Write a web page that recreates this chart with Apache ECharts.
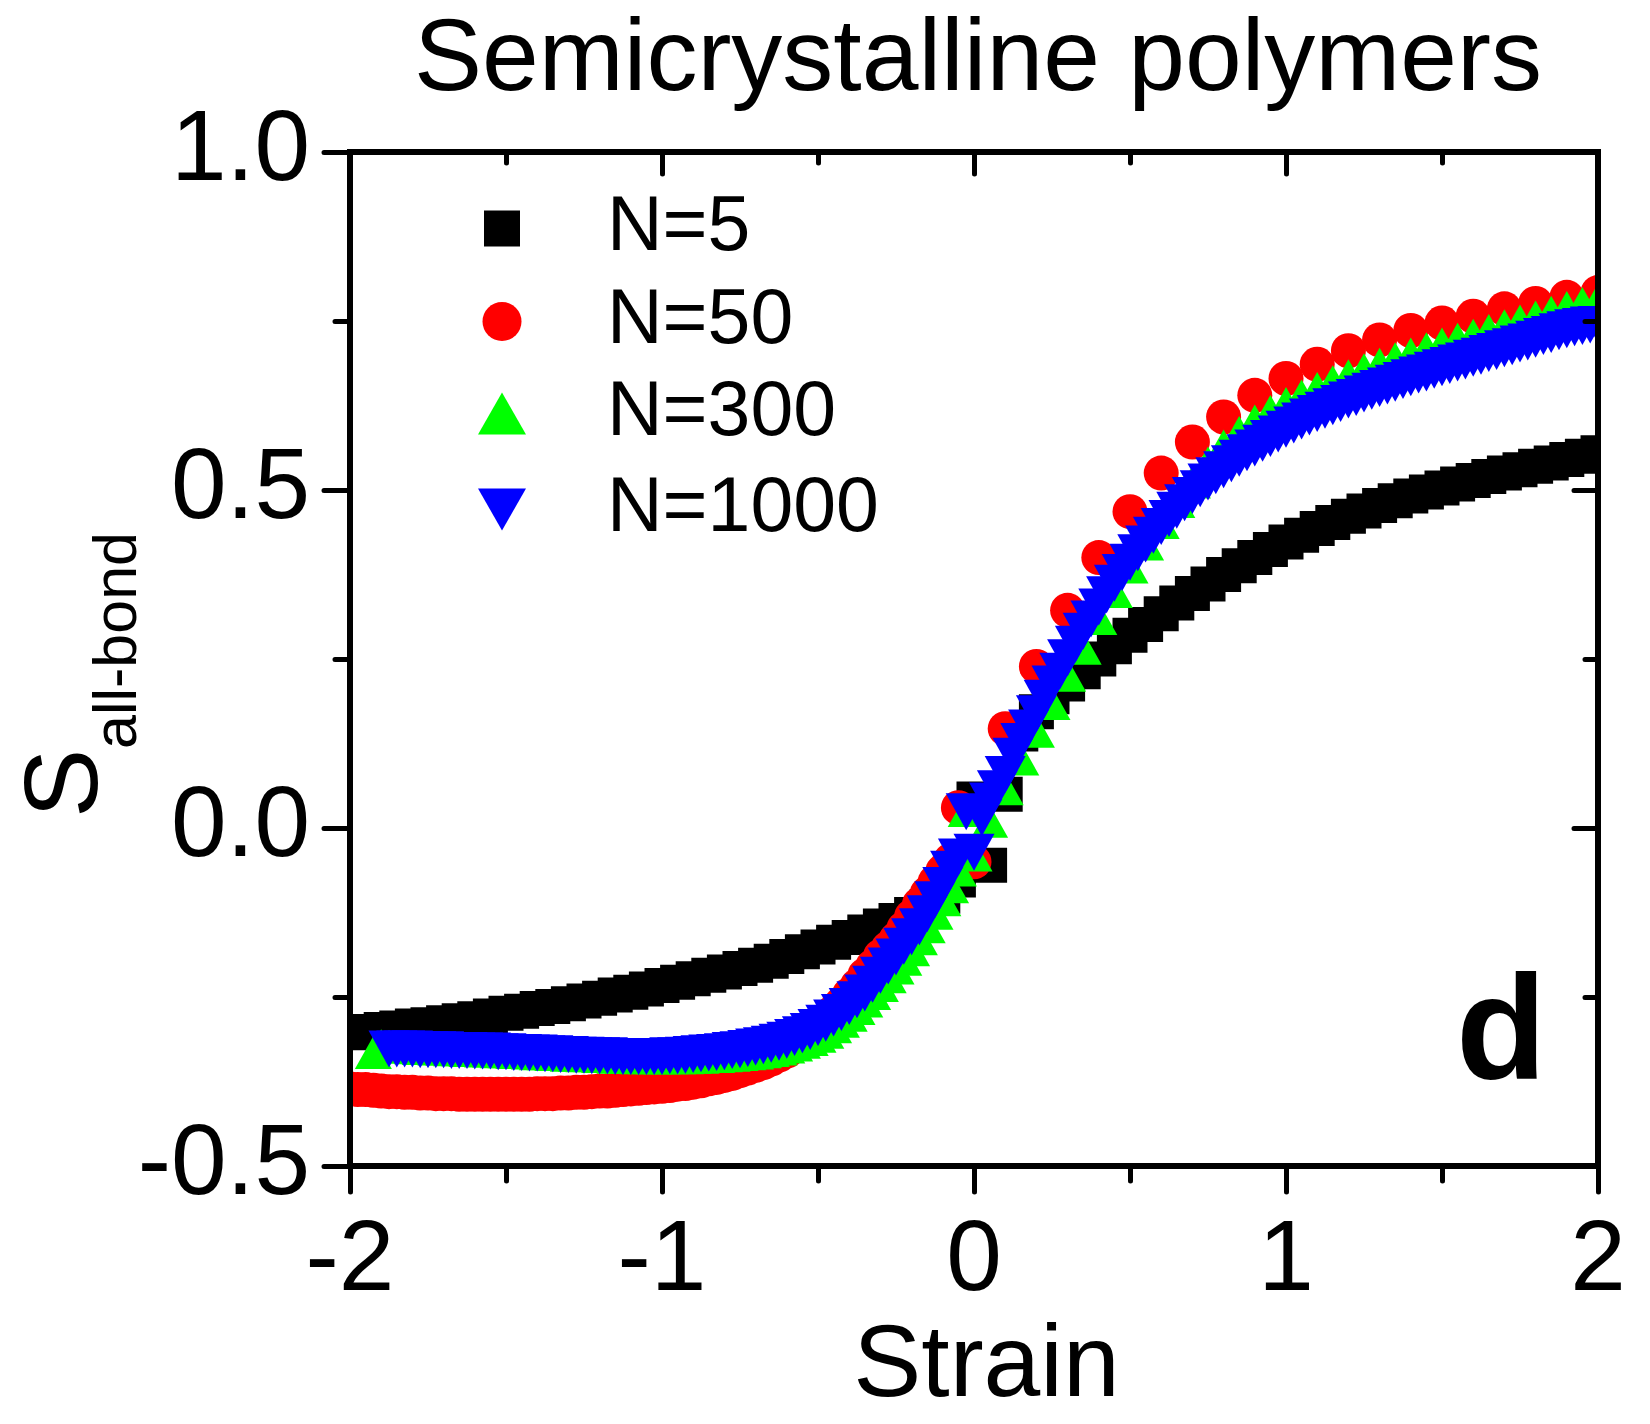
<!DOCTYPE html>
<html><head><meta charset="utf-8">
<script src="https://cdn.jsdelivr.net/npm/echarts@6/dist/echarts.min.js"></script>
<style>html,body{margin:0;padding:0;background:#fff;}#c{width:1650px;height:1424px;}</style>
</head><body><div id="c"></div>
<script>
// ---------- data (strain, S_all-bond) ----------
const titleText = 'Semicrystalline polymers';
const seriesNames = ['N=5', 'N=50', 'N=300', 'N=1000'];
const xTickValues = [-2, -1, 0, 1, 2];
const xTickLabels = ['-2', '-1', '0', '1', '2'];
const yTickValues = [-0.5, 0, 0.5, 1.0];
const yTickLabels = ['-0.5', '0.0', '0.5', '1.0'];

const n5 = [[-2.0,-0.303],[-1.95,-0.301],[-1.9,-0.298],[-1.85,-0.296],[-1.8,-0.293],[-1.75,-0.291],[-1.7,-0.288],[-1.65,-0.285],[-1.6,-0.282],[-1.55,-0.278],[-1.5,-0.274],[-1.45,-0.271],[-1.4,-0.267],[-1.35,-0.264],[-1.3,-0.260],[-1.25,-0.256],[-1.2,-0.252],[-1.15,-0.247],[-1.1,-0.243],[-1.05,-0.238],[-1.0,-0.233],[-0.95,-0.228],[-0.9,-0.223],[-0.85,-0.218],[-0.8,-0.213],[-0.75,-0.208],[-0.7,-0.203],[-0.65,-0.197],[-0.6,-0.190],[-0.55,-0.183],[-0.5,-0.176],[-0.45,-0.169],[-0.4,-0.162],[-0.35,-0.154],[-0.3,-0.145],[-0.25,-0.137],[-0.2,-0.128],[-0.15,-0.116],[-0.1,-0.101],[-0.05,-0.077],[0.0,0.043],
[0.05,-0.055],[0.1,0.050],[0.15,0.139],[0.2,0.172],[0.25,0.194],[0.3,0.213],[0.35,0.231],[0.4,0.250],[0.45,0.268],[0.5,0.285],[0.55,0.301],[0.6,0.317],[0.65,0.333],[0.7,0.347],[0.75,0.361],[0.8,0.375],[0.85,0.388],[0.9,0.400],[0.95,0.412],[1.0,0.423],[1.05,0.433],[1.1,0.443],[1.15,0.452],[1.2,0.461],[1.25,0.469],[1.3,0.477],[1.35,0.484],[1.4,0.491],[1.45,0.497],[1.5,0.503],[1.55,0.509],[1.6,0.514],[1.65,0.520],[1.7,0.525],[1.75,0.530],[1.8,0.535],[1.85,0.540],[1.9,0.545],[1.95,0.550],[2.0,0.555]];

const n50 = [[-2.0,-0.386],[-1.975,-0.387],[-1.95,-0.387],[-1.925,-0.388],[-1.9,-0.389],[-1.875,-0.390],[-1.85,-0.390],[-1.825,-0.391],[-1.8,-0.391],[-1.775,-0.392],[-1.75,-0.392],[-1.725,-0.393],[-1.7,-0.393],[-1.675,-0.393],[-1.65,-0.394],[-1.625,-0.394],[-1.6,-0.394],[-1.575,-0.394],[-1.55,-0.394],[-1.525,-0.394],[-1.5,-0.394],[-1.475,-0.394],[-1.45,-0.394],[-1.425,-0.394],[-1.4,-0.393],[-1.375,-0.393],[-1.35,-0.393],[-1.325,-0.392],[-1.3,-0.392],[-1.275,-0.391],[-1.25,-0.391],[-1.225,-0.390],[-1.2,-0.389],[-1.175,-0.389],[-1.15,-0.388],[-1.125,-0.387],[-1.1,-0.386],[-1.075,-0.385],[-1.05,-0.384],[-1.025,-0.383],[-1.0,-0.382],[-0.975,-0.381],[-0.95,-0.379],[-0.925,-0.378],[-0.9,-0.376],[-0.875,-0.374],[-0.85,-0.371],[-0.825,-0.369],[-0.8,-0.366],[-0.775,-0.363],[-0.75,-0.359],[-0.725,-0.355],[-0.7,-0.351],[-0.675,-0.347],[-0.65,-0.342],[-0.625,-0.336],[-0.6,-0.330],[-0.575,-0.322],[-0.55,-0.314],[-0.525,-0.304],[-0.5,-0.294],[-0.475,-0.283],[-0.45,-0.272],[-0.425,-0.260],[-0.4,-0.247],[-0.375,-0.234],[-0.35,-0.218],[-0.325,-0.205],[-0.3,-0.190],[-0.275,-0.178],[-0.25,-0.165],[-0.225,-0.149],[-0.2,-0.131],[-0.175,-0.113],[-0.15,-0.097],[-0.125,-0.080],[-0.1,-0.064],[-0.075,-0.048],[-0.05,0.030],
[0.0,-0.050],[0.1,0.147],[0.2,0.239],[0.3,0.322],[0.4,0.400],[0.5,0.468],[0.6,0.525],[0.7,0.571],[0.8,0.608],[0.9,0.640],[1.0,0.665],[1.1,0.686],[1.2,0.706],[1.3,0.722],[1.4,0.736],[1.5,0.747],[1.6,0.757],[1.7,0.768],[1.8,0.776],[1.9,0.785],[2.0,0.792]];

const n300 = [[-1.925,-0.332],[-1.9,-0.322],[-1.875,-0.323],[-1.85,-0.324],[-1.825,-0.324],[-1.8,-0.325],[-1.775,-0.326],[-1.75,-0.326],[-1.725,-0.327],[-1.7,-0.327],[-1.675,-0.328],[-1.65,-0.328],[-1.625,-0.329],[-1.6,-0.329],[-1.575,-0.330],[-1.55,-0.330],[-1.525,-0.331],[-1.5,-0.331],[-1.475,-0.332],[-1.45,-0.332],[-1.425,-0.333],[-1.4,-0.334],[-1.375,-0.334],[-1.35,-0.335],[-1.325,-0.335],[-1.3,-0.336],[-1.275,-0.336],[-1.25,-0.337],[-1.225,-0.337],[-1.2,-0.338],[-1.175,-0.338],[-1.15,-0.339],[-1.125,-0.339],[-1.1,-0.339],[-1.075,-0.340],[-1.05,-0.340],[-1.025,-0.340],[-1.0,-0.340],[-0.975,-0.340],[-0.95,-0.340],[-0.925,-0.340],[-0.9,-0.339],[-0.875,-0.339],[-0.85,-0.338],[-0.825,-0.338],[-0.8,-0.337],[-0.775,-0.336],[-0.75,-0.335],[-0.725,-0.334],[-0.7,-0.333],[-0.675,-0.331],[-0.65,-0.329],[-0.625,-0.327],[-0.6,-0.324],[-0.575,-0.321],[-0.55,-0.317],[-0.525,-0.313],[-0.5,-0.308],[-0.475,-0.302],[-0.45,-0.294],[-0.425,-0.286],[-0.4,-0.277],[-0.375,-0.267],[-0.35,-0.256],[-0.325,-0.245],[-0.3,-0.233],[-0.275,-0.220],[-0.25,-0.207],[-0.225,-0.194],[-0.2,-0.180],[-0.175,-0.164],[-0.15,-0.146],[-0.125,-0.126],[-0.1,-0.106],[-0.075,-0.087],[-0.05,-0.062],[-0.025,0.026],
[0.0,-0.040],[0.05,0.010],[0.1,0.058],[0.15,0.102],[0.2,0.143],[0.25,0.184],[0.3,0.226],[0.35,0.266],[0.4,0.310],[0.45,0.350],[0.5,0.386],[0.55,0.420],[0.6,0.452],[0.65,0.483],[0.7,0.512],[0.75,0.540],[0.8,0.565],[0.85,0.585],[0.9,0.602],[0.95,0.616],[1.0,0.628],[1.05,0.639],[1.1,0.650],[1.15,0.660],[1.2,0.669],[1.25,0.678],[1.3,0.686],[1.35,0.694],[1.4,0.701],[1.45,0.709],[1.5,0.716],[1.55,0.723],[1.6,0.729],[1.65,0.736],[1.7,0.743],[1.75,0.750],[1.8,0.756],[1.85,0.763],[1.9,0.770],[1.95,0.776],[2.0,0.781]];

const n1000 = [[-1.875,-0.327],[-1.85,-0.327],[-1.825,-0.327],[-1.8,-0.327],[-1.775,-0.328],[-1.75,-0.328],[-1.725,-0.328],[-1.7,-0.328],[-1.675,-0.329],[-1.65,-0.329],[-1.625,-0.329],[-1.6,-0.330],[-1.575,-0.330],[-1.55,-0.330],[-1.525,-0.331],[-1.5,-0.331],[-1.475,-0.332],[-1.45,-0.332],[-1.425,-0.333],[-1.4,-0.333],[-1.375,-0.334],[-1.35,-0.334],[-1.325,-0.335],[-1.3,-0.335],[-1.275,-0.336],[-1.25,-0.336],[-1.225,-0.337],[-1.2,-0.337],[-1.175,-0.337],[-1.15,-0.338],[-1.125,-0.338],[-1.1,-0.338],[-1.075,-0.338],[-1.05,-0.338],[-1.025,-0.338],[-1.0,-0.338],[-0.975,-0.337],[-0.95,-0.337],[-0.925,-0.336],[-0.9,-0.335],[-0.875,-0.334],[-0.85,-0.333],[-0.825,-0.332],[-0.8,-0.331],[-0.775,-0.329],[-0.75,-0.328],[-0.725,-0.326],[-0.7,-0.324],[-0.675,-0.322],[-0.65,-0.320],[-0.625,-0.317],[-0.6,-0.314],[-0.575,-0.310],[-0.55,-0.306],[-0.525,-0.301],[-0.5,-0.295],[-0.475,-0.289],[-0.45,-0.281],[-0.425,-0.273],[-0.4,-0.264],[-0.375,-0.254],[-0.35,-0.244],[-0.325,-0.231],[-0.3,-0.218],[-0.275,-0.204],[-0.25,-0.191],[-0.225,-0.175],[-0.2,-0.161],[-0.175,-0.146],[-0.15,-0.127],[-0.125,-0.106],[-0.1,-0.085],[-0.075,-0.061],[-0.05,-0.043],[-0.025,0.024],
[0.0,-0.036],[0.025,0.015],[0.05,0.040],[0.075,0.058],[0.1,0.079],[0.125,0.106],[0.15,0.128],[0.175,0.148],[0.2,0.169],[0.225,0.192],[0.25,0.213],[0.275,0.232],[0.3,0.252],[0.325,0.272],[0.35,0.291],[0.375,0.309],[0.4,0.327],[0.425,0.345],[0.45,0.362],[0.475,0.378],[0.5,0.393],[0.525,0.407],[0.55,0.420],[0.575,0.433],[0.6,0.446],[0.625,0.458],[0.65,0.470],[0.675,0.481],[0.7,0.492],[0.725,0.502],[0.75,0.512],[0.775,0.521],[0.8,0.530],[0.825,0.539],[0.85,0.547],[0.875,0.555],[0.9,0.562],[0.925,0.569],[0.95,0.576],[0.975,0.583],[1.0,0.590],[1.025,0.596],[1.05,0.602],[1.075,0.608],[1.1,0.613],[1.125,0.618],[1.15,0.623],[1.175,0.628],[1.2,0.633],[1.225,0.637],[1.25,0.642],[1.275,0.646],[1.3,0.650],[1.325,0.654],[1.35,0.658],[1.375,0.662],[1.4,0.666],[1.425,0.670],[1.45,0.673],[1.475,0.677],[1.5,0.681],[1.525,0.684],[1.55,0.688],[1.575,0.691],[1.6,0.695],[1.625,0.698],[1.65,0.702],[1.675,0.705],[1.7,0.709],[1.725,0.712],[1.75,0.716],[1.775,0.719],[1.8,0.723],[1.825,0.727],[1.85,0.730],[1.875,0.734],[1.9,0.737],[1.925,0.740],[1.95,0.742],[1.975,0.744],[2.0,0.745]];

// ---------- chart ----------
const FONT = '"Liberation Sans", Arial, sans-serif';
const chart = echarts.init(document.getElementById('c'), null, {renderer: 'canvas'});
const G = {left: 350, top: 152, width: 1248, height: 1014};

function lookup(vals, labels) {
  return v => { const i = vals.findIndex(t => Math.abs(t - v) < 1e-9); return i >= 0 ? labels[i] : ''; };
}
const axisLineStyle = {color: '#000', width: 6, cap: 'square'};
const tickStyle = {color: '#000', width: 5, cap: 'round'};

function legendFor(item, left, top, w, h, pad) {
  return {
    data: [item], left: left, top: top, orient: 'vertical', padding: 0,
    itemWidth: w, itemHeight: h, selectedMode: false,
    itemStyle: {opacity: 1},
    textStyle: {fontFamily: FONT, fontSize: 77, color: '#000', lineHeight: 30, padding: pad}
  };
}

const option = {
  animation: false,
  backgroundColor: '#fff',
  textStyle: {fontFamily: FONT},
  title: {
    text: titleText, left: 414, top: 11, padding: 0, z: 30,
    textStyle: {fontFamily: FONT, fontSize: 102, fontWeight: 'normal', color: '#000', lineHeight: 102}
  },
  grid: Object.assign({containLabel: false, outerBoundsMode: 'none'}, G),
  legend: [
    legendFor(seriesNames[0], 484, 190, 36, 36, [0, 0, 0, 82]),
    legendFor(seriesNames[1], 482.5, 283, 39, 39, [0, 0, 0, 80.5]),
    legendFor(seriesNames[2], 478, 375, 48, 42, [0, 0, 0, 76]),
    legendFor({name: seriesNames[3], icon: 'path://M0,0L48,0L24,42Z'}, 478, 471, 48, 42, [0, 0, 0, 76])
  ],
  xAxis: [
    {
      type: 'value', min: -2, max: 2, interval: 1, position: 'bottom', z: 10,
      axisLine: {show: true, onZero: false, lineStyle: axisLineStyle},
      axisTick: {show: true, inside: false, length: 26, lineStyle: tickStyle},
      minorTick: {show: true, splitNumber: 2, length: 15, lineStyle: tickStyle},
      splitLine: {show: false}, minorSplitLine: {show: false},
      axisLabel: {show: true, margin: 46, fontFamily: FONT, fontSize: 100, lineHeight: 100, color: '#000',
                  formatter: lookup(xTickValues, xTickLabels)},
      name: 'Strain', nameLocation: 'middle', nameGap: 151,
      nameTextStyle: {fontFamily: FONT, fontSize: 102, lineHeight: 102, color: '#000', padding: [0, 0, 0, 25]}
    },
    {
      type: 'value', min: -2, max: 2, interval: 1, position: 'top', z: 10,
      axisLine: {show: true, onZero: false, lineStyle: axisLineStyle},
      axisTick: {show: true, inside: true, length: 22, lineStyle: tickStyle},
      minorTick: {show: true, splitNumber: 2, length: 11, lineStyle: tickStyle},
      splitLine: {show: false}, minorSplitLine: {show: false},
      axisLabel: {show: false}
    }
  ],
  yAxis: [
    {
      type: 'value', min: -0.5, max: 1.0, interval: 0.5, position: 'left', z: 10,
      axisLine: {show: true, onZero: false, lineStyle: axisLineStyle},
      axisTick: {show: true, inside: false, length: 26, lineStyle: tickStyle},
      minorTick: {show: true, splitNumber: 2, length: 15, lineStyle: tickStyle},
      splitLine: {show: false}, minorSplitLine: {show: false},
      axisLabel: {show: true, margin: 40, fontFamily: FONT, fontSize: 100, lineHeight: 100, color: '#000',
                  padding: [0, 0, 14, 0], formatter: lookup(yTickValues, yTickLabels)}
    },
    {
      type: 'value', min: -0.5, max: 1.0, interval: 0.5, position: 'right', z: 10,
      axisLine: {show: true, onZero: false, lineStyle: axisLineStyle},
      axisTick: {show: true, inside: true, length: 24, lineStyle: tickStyle},
      minorTick: {show: true, splitNumber: 2, length: 13, lineStyle: tickStyle},
      splitLine: {show: false}, minorSplitLine: {show: false},
      axisLabel: {show: false}
    }
  ],
  graphic: [
    // white masks outside the frame (the original clips symbols to the frame)
    {type: 'rect', silent: true, z: 5, shape: {x: 0, y: 0, width: 347, height: 1424}, style: {fill: '#fff'}},
    {type: 'rect', silent: true, z: 5, shape: {x: 1601, y: 0, width: 49, height: 1424}, style: {fill: '#fff'}},
    {type: 'rect', silent: true, z: 5, shape: {x: 0, y: 0, width: 1650, height: 149}, style: {fill: '#fff'}},
    {type: 'rect', silent: true, z: 5, shape: {x: 0, y: 1169, width: 1650, height: 255}, style: {fill: '#fff'}},
    // y axis title S_all-bond (rotated)
    {type: 'text', z: 30, x: 68, y: 818, rotation: Math.PI / 2,
     style: {text: 'S', font: '104px ' + FONT, fill: '#000', align: 'left', verticalAlign: 'middle'}},
    {type: 'text', z: 30, x: 119, y: 749, rotation: Math.PI / 2,
     style: {text: 'all-bond', font: '61px ' + FONT, fill: '#000', align: 'left', verticalAlign: 'middle'}},
    // panel label
    {type: 'text', z: 30, x: 1456, y: 1038,
     style: {text: 'd', font: 'bold 148px ' + FONT, fill: '#000', align: 'left', verticalAlign: 'middle'}}
  ],
  series: [
    {name: seriesNames[0], type: 'scatter', data: n5, symbol: 'rect', symbolSize: 35, clip: false,
     itemStyle: {color: '#000000', opacity: 1}, emphasis: {disabled: true}},
    {name: seriesNames[1], type: 'scatter', data: n50, symbol: 'circle', symbolSize: 35, clip: false,
     itemStyle: {color: '#ff0000', opacity: 1}, emphasis: {disabled: true}},
    {name: seriesNames[2], type: 'scatter', data: n300, symbol: 'triangle', symbolSize: [37, 33], clip: false,
     itemStyle: {color: '#00ff00', opacity: 1}, emphasis: {disabled: true}},
    {name: seriesNames[3], type: 'scatter', data: n1000, symbol: 'triangle', symbolSize: [41, 37], symbolRotate: 180, clip: false,
     itemStyle: {color: '#0000ff', opacity: 1}, emphasis: {disabled: true}}
  ]
};
chart.setOption(option);
</script></body></html>
